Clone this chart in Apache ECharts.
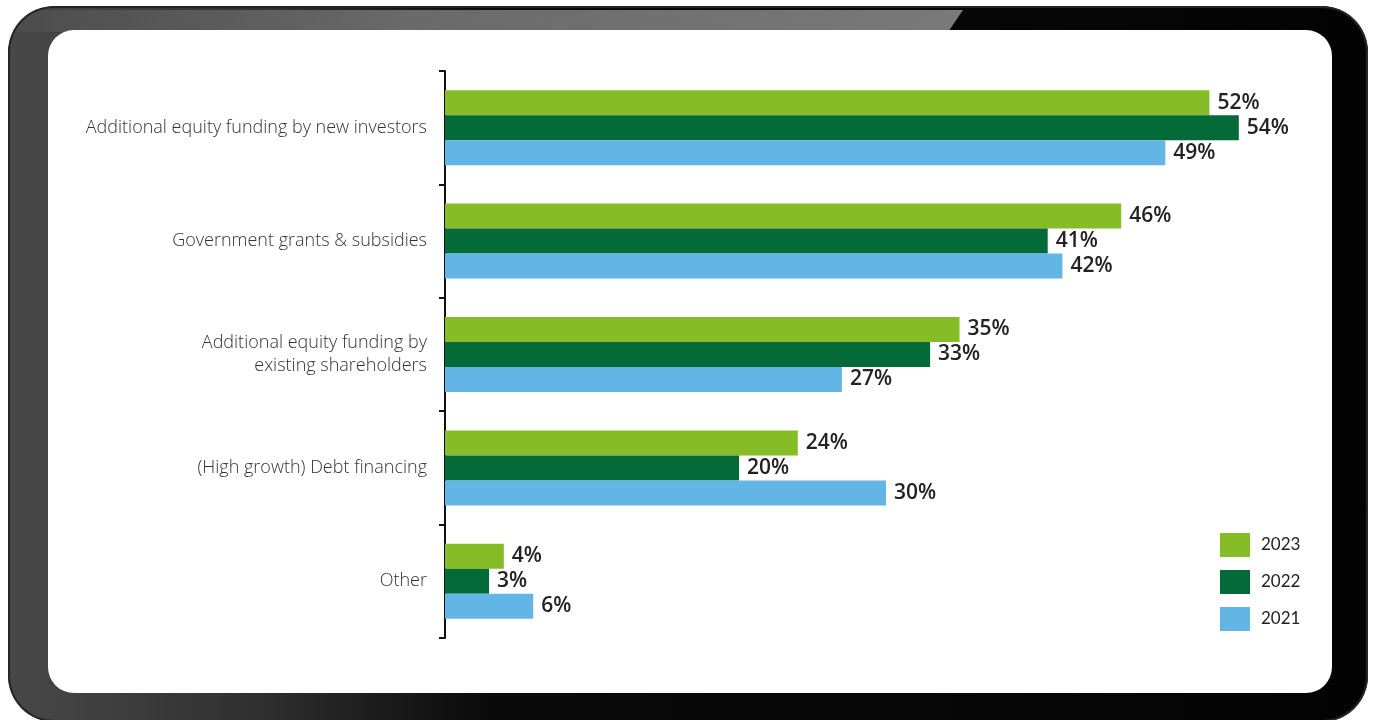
<!DOCTYPE html>
<html>
<head>
<meta charset="utf-8">
<script src="https://cdn.jsdelivr.net/npm/echarts@6/dist/echarts.min.js"></script>
<style>
  html, body { margin: 0; padding: 0; background: #ffffff; }
  #frame {
    position: absolute; left: 8px; top: 6px; width: 1360px; height: 716px;
    border-radius: 46px; overflow: hidden;
    background: linear-gradient(to right, #484848 0px, #444444 44px, #2e2e2e 260px, #0a0a0a 480px, #030303 100%);
  }
  #shine {
    position: absolute; left: 0; top: 0; width: 100%; height: 100%;
    background: linear-gradient(to right, #4c4c4c 0%, #6a6a6a 30%, #858585 100%);
    clip-path: polygon(0 4px, 955px 4px, 940px 26px, 0 26px);
  }
  #rim {
    position: absolute; left: 0; top: 0; width: 100%; height: 100%;
    border-radius: 46px; box-shadow: inset 0 0 0 2px #262626;
  }
  #panel {
    position: absolute; left: 48px; top: 30px; width: 1284px; height: 663px;
    border-radius: 26px; background: #ffffff;
  }
  #chart { position: absolute; left: 0; top: 0; width: 1377px; height: 720px; }
</style>
</head>
<body>
<div id="frame"><div id="shine"></div><div id="rim"></div></div>
<div id="panel"></div>
<div id="chart"></div>
<script>
  // Funding sources, share of respondents (%)
  const categories = [
    'Additional equity funding by new investors',
    'Government grants & subsidies',
    'Additional equity funding by\nexisting shareholders',
    '(High growth) Debt financing',
    'Other'
  ];
  const years = ['2023', '2022', '2021'];
  const values2023 = [52, 46, 35, 24, 4];
  const values2022 = [54, 41, 33, 20, 3];
  const values2021 = [49, 42, 27, 30, 6];
  const colors = ['#86BC25', '#046A38', '#62B5E5'];

  const seriesValues = [values2023, values2022, values2021];

  const chart = echarts.init(document.getElementById('chart'), null, { renderer: 'canvas' });
  chart.setOption({
    backgroundColor: 'transparent',
    animation: false,
    grid: { left: 445, right: 50, top: 71, bottom: 82, containLabel: false },
    legend: {
      data: years,
      orient: 'vertical',
      left: 1215,
      top: 528,
      itemWidth: 30,
      itemHeight: 24,
      itemGap: 13,
      icon: 'rect',
      textStyle: {
        fontFamily: 'Lato, "Open Sans", sans-serif',
        fontSize: 17,
        color: '#222222',
        padding: [0, 0, 0, 6]
      }
    },
    xAxis: {
      type: 'value',
      min: 0,
      max: 60,
      show: false
    },
    yAxis: {
      type: 'category',
      data: categories,
      inverse: true,
      axisLine: { show: true, lineStyle: { color: '#111111', width: 2 } },
      axisTick: { show: true, length: 6, lineStyle: { color: '#111111', width: 2 } },
      axisLabel: {
        margin: 18,
        fontFamily: '"Open Sans", sans-serif',
        fontWeight: 300,
        fontSize: 18,
        lineHeight: 23,
        color: '#333333'
      }
    },
    series: years.map((y, i) => ({
      name: y,
      type: 'bar',
      data: seriesValues[i],
      barWidth: 25,
      barGap: '0%',
      itemStyle: { color: colors[i] },
      label: {
        show: true,
        position: 'right',
        distance: 8,
        formatter: '{c}%',
        fontFamily: '"Open Sans", sans-serif',
        fontWeight: 600,
        fontSize: 21,
        color: '#222222'
      }
    }))
  });
</script>
</body>
</html>
